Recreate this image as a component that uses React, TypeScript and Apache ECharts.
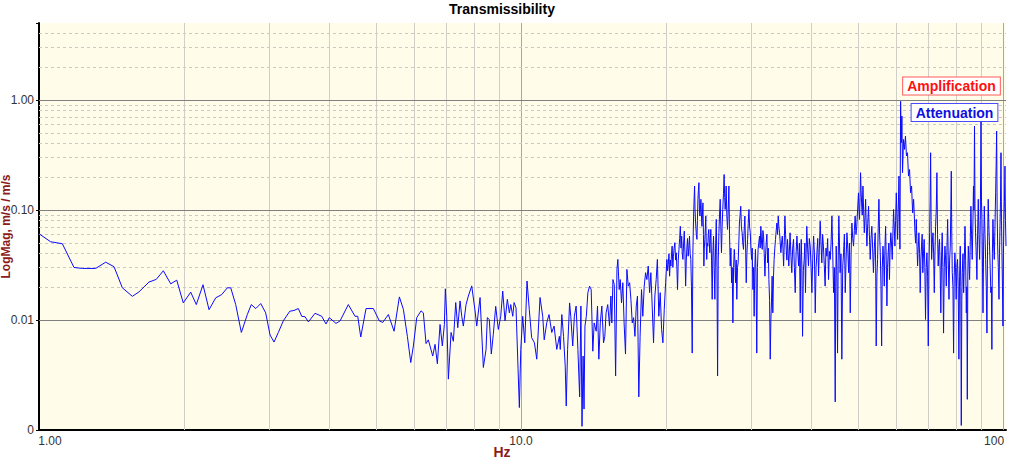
import React, { useEffect, useRef } from "react";
import * as echarts from "echarts";

const FONT = "'Liberation Sans', Arial, Helvetica, sans-serif";

// Gridline / tick values (Hz and magnitude)
const xMinorGrid = [2, 3, 4, 5, 6, 7, 8, 9, 20, 30, 40, 50, 60, 70, 80, 90];
const xMajorGrid = [10, 100];
const yMinorGrid = [
  0.002, 0.003, 0.005, 0.006, 0.007, 0.008, 0.009,
  0.02, 0.03, 0.04, 0.05, 0.06, 0.07, 0.08, 0.09,
  0.2, 0.3, 0.4, 0.5, 0.6, 0.7, 0.8, 0.9,
  2, 3, 4,
];
const yMajorGrid = [0.01, 0.1, 1];

// Transmissibility [Hz, m/s / m/s]
const lowBand: [number, number][] = [
  [1.0, 0.0608], [1.057, 0.0514], [1.118, 0.0493], [1.182, 0.030], [1.23, 0.0294], [1.311, 0.0294],
  [1.375, 0.0335], [1.431, 0.0305], [1.489, 0.0196], [1.562, 0.0164], [1.612, 0.018], [1.691, 0.0221],
  [1.751, 0.0234], [1.811, 0.028], [1.876, 0.0213], [1.931, 0.023], [1.992, 0.0143], [2.064, 0.0179],
  [2.12, 0.0138], [2.189, 0.0209], [2.253, 0.0124], [2.326, 0.0159], [2.393, 0.017], [2.459, 0.0196],
  [2.499, 0.0196], [2.559, 0.0138], [2.629, 0.0077], [2.705, 0.0112], [2.757, 0.0138], [2.816, 0.0127],
  [2.884, 0.0141], [2.953, 0.0116], [3.015, 0.0073], [3.073, 0.0063], [3.137, 0.0077], [3.212, 0.0098],
  [3.312, 0.012], [3.381, 0.0122], [3.451, 0.0127],
];

const midBand: [number, number][] = [
  [3.508, 0.0108], [3.564, 0.0107], [3.621, 0.0096], [3.738, 0.0115], [3.859, 0.0108], [3.939, 0.0092],
  [4.002, 0.0105], [4.132, 0.0093], [4.212, 0.0098], [4.382, 0.0138], [4.525, 0.0108], [4.584, 0.0108],
  [4.65, 0.007], [4.769, 0.0127], [4.939, 0.0127], [5.082, 0.0098], [5.166, 0.0095], [5.306, 0.0112],
  [5.452, 0.0079], [5.592, 0.0162], [5.70, 0.0125], [5.81, 0.0071], [5.905, 0.0041], [5.979, 0.0058],
  [6.076, 0.0105], [6.202, 0.0121], [6.271, 0.0116], [6.352, 0.0061], [6.422, 0.0066], [6.558, 0.0047],
  [6.631, 0.006], [6.705, 0.004], [6.792, 0.0091], [6.866, 0.0058], [6.933, 0.0091], [6.966, 0.0192],
  [7.013, 0.0108], [7.067, 0.0029], [7.158, 0.0077], [7.238, 0.0064], [7.32, 0.0144], [7.391, 0.0085],
  [7.472, 0.0149], [7.534, 0.0108], [7.591, 0.0088], [7.69, 0.0138], [7.775, 0.0165], [7.901, 0.0204],
  [8.028, 0.0121], [8.093, 0.0088], [8.222, 0.016], [8.352, 0.0037], [8.46, 0.0054], [8.513, 0.0105],
  [8.593, 0.0101], [8.676, 0.0049], [8.759, 0.0074], [8.86, 0.0133], [8.971, 0.0082], [9.075, 0.0108],
  [9.162, 0.0183], [9.264, 0.0098], [9.367, 0.0154], [9.457, 0.0116], [9.52, 0.0138], [9.612, 0.0108],
  [9.672, 0.0144], [9.763, 0.0129], [9.858, 0.0036], [9.92, 0.0016], [9.986, 0.0054], [10.08, 0.0108],
  [10.18, 0.0062], [10.29, 0.0226], [10.40, 0.0125], [10.52, 0.0069], [10.66, 0.0062], [10.78, 0.0044],
  [10.95, 0.016], [11.09, 0.0108], [11.17, 0.0066], [11.31, 0.0095], [11.43, 0.0112], [11.58, 0.0077],
  [11.71, 0.0088], [11.86, 0.0054], [12.01, 0.0071],
];

const risingBand: [number, number][] = [
  [12.06, 0.0054], [12.15, 0.0112], [12.25, 0.0071], [12.35, 0.0038], [12.41, 0.00165], [12.49, 0.0054],
  [12.61, 0.0143], [12.68, 0.0108], [12.80, 0.0058], [12.90, 0.0108], [13.01, 0.0134], [13.12, 0.0054],
  [13.23, 0.002], [13.31, 0.0134], [13.38, 0.00108], [13.45, 0.0047], [13.51, 0.00155], [13.57, 0.0088],
  [13.66, 0.0108], [13.76, 0.0177], [13.87, 0.0203], [13.98, 0.0189], [14.09, 0.0052], [14.18, 0.0094],
  [14.32, 0.0079], [14.41, 0.0134], [14.50, 0.0044], [14.60, 0.0094], [14.71, 0.0134], [14.83, 0.0062],
  [14.92, 0.0071], [15.01, 0.0116], [15.13, 0.0138], [15.26, 0.0088], [15.36, 0.0165], [15.43, 0.0094],
  [15.51, 0.0233], [15.61, 0.021], [15.71, 0.0031], [15.81, 0.0288], [15.88, 0.0355], [15.98, 0.0189],
  [16.06, 0.0233], [16.16, 0.0143], [16.26, 0.0218], [16.36, 0.0094], [16.47, 0.0049], [16.58, 0.0288],
  [16.69, 0.0203], [16.80, 0.0218], [16.90, 0.0154], [17.01, 0.0094], [17.12, 0.0105], [17.23, 0.0071],
  [17.34, 0.0134], [17.44, 0.0165], [17.55, 0.002], [17.66, 0.0071], [17.78, 0.0189], [17.89, 0.0108],
  [18.01, 0.0203], [18.13, 0.0269], [18.24, 0.0233], [18.36, 0.0309], [18.48, 0.0177], [18.59, 0.0269],
  [18.71, 0.0134], [18.83, 0.0062], [18.95, 0.0165], [19.07, 0.0233], [19.18, 0.0355], [19.31, 0.0108],
  [19.44, 0.0177], [19.57, 0.0082], [19.69, 0.0062], [19.82, 0.0125], [19.95, 0.0218],
  [20.07, 0.0355], [20.14, 0.028], [20.20, 0.032], [20.27, 0.04], [20.33, 0.025], [20.40, 0.035],
  [20.46, 0.0309], [20.52, 0.04], [20.58, 0.0469], [20.65, 0.03], [20.71, 0.038], [20.78, 0.045],
  [20.85, 0.0504], [20.92, 0.035], [20.99, 0.0408], [21.05, 0.03], [21.12, 0.0189], [21.19, 0.035],
  [21.26, 0.0438], [21.33, 0.055], [21.40, 0.071], [21.47, 0.045], [21.54, 0.0578], [21.60, 0.04],
  [21.67, 0.0355], [21.74, 0.05], [21.81, 0.0642], [21.88, 0.04], [21.95, 0.0203], [22.02, 0.035],
  [22.09, 0.0469], [22.15, 0.055], [22.22, 0.038], [22.29, 0.045], [22.36, 0.0578], [22.43, 0.04],
  [22.50, 0.0355], [22.57, 0.02], [22.65, 0.005], [22.72, 0.04], [22.80, 0.088], [22.85, 0.12],
  [22.91, 0.165], [22.96, 0.1], [23.02, 0.076], [23.10, 0.06], [23.17, 0.054], [23.22, 0.08],
  [23.28, 0.125], [23.33, 0.15], [23.39, 0.177], [23.45, 0.1], [23.50, 0.088], [23.55, 0.1],
  [23.61, 0.125], [23.67, 0.09], [23.73, 0.071], [23.78, 0.09], [23.84, 0.116], [23.90, 0.06],
  [23.95, 0.0309], [24.00, 0.045], [24.06, 0.054], [24.12, 0.07], [24.17, 0.088], [24.22, 0.05],
  [24.28, 0.0355], [24.34, 0.05], [24.40, 0.0469], [24.46, 0.06], [24.52, 0.0665], [24.58, 0.05],
  [24.64, 0.0408], [24.70, 0.055], [24.76, 0.0665], [24.84, 0.035], [24.92, 0.0154], [25.00, 0.04],
  [25.08, 0.0578], [25.16, 0.03], [25.24, 0.0154], [25.32, 0.045], [25.41, 0.082], [25.49, 0.03],
  [25.57, 0.0031], [25.65, 0.035], [25.73, 0.062], [25.81, 0.09], [25.89, 0.125], [25.97, 0.07],
  [26.05, 0.0408], [26.13, 0.07], [26.21, 0.101], [26.30, 0.14], [26.38, 0.21], [26.45, 0.13],
  [26.51, 0.101], [26.58, 0.12], [26.64, 0.165], [26.72, 0.09], [26.81, 0.0665], [26.90, 0.1],
  [26.99, 0.165], [27.07, 0.06], [27.16, 0.0309], [27.25, 0.045], [27.34, 0.0218], [27.42, 0.03],
  [27.51, 0.0094], [27.60, 0.03], [27.69, 0.0438], [27.77, 0.035], [27.86, 0.0218], [27.95, 0.035],
  [28.03, 0.0154], [28.12, 0.03], [28.21, 0.0331], [28.30, 0.05], [28.38, 0.076], [28.47, 0.09],
  [28.56, 0.108], [28.65, 0.07], [28.75, 0.062], [28.84, 0.05], [28.94, 0.0438], [29.03, 0.065],
  [29.13, 0.088], [29.22, 0.05], [29.32, 0.0218], [29.41, 0.04], [29.51, 0.054], [29.60, 0.075],
  [29.70, 0.101], [29.80, 0.07], [29.89, 0.062], [29.98, 0.045], [30.08, 0.0355], [30.17, 0.045],
  [30.27, 0.0189], [30.36, 0.03], [30.45, 0.0108], [30.55, 0.03], [30.64, 0.0438], [30.73, 0.025],
  [30.83, 0.005], [30.93, 0.03], [31.03, 0.0438], [31.13, 0.05], [31.24, 0.0578], [31.34, 0.045],
  [31.44, 0.071], [31.55, 0.05], [31.65, 0.0438], [31.75, 0.065], [31.85, 0.0578], [31.95, 0.04],
  [32.06, 0.025], [32.16, 0.04], [32.26, 0.0504], [32.36, 0.06], [32.47, 0.0331], [32.57, 0.045],
  [32.67, 0.0233], [32.78, 0.015], [32.88, 0.0044], [32.98, 0.01], [33.08, 0.0143], [33.18, 0.025],
  [33.29, 0.0116], [33.40, 0.025], [33.50, 0.0355], [33.61, 0.045], [33.72, 0.054], [33.83, 0.065],
  [33.94, 0.076], [34.05, 0.06], [34.16, 0.088], [34.27, 0.07], [34.38, 0.062], [34.49, 0.05],
  [34.60, 0.0408], [34.71, 0.05], [34.83, 0.0578], [34.94, 0.045], [35.05, 0.0309], [35.16, 0.05],
  [35.27, 0.088], [35.38, 0.06], [35.49, 0.0438], [35.60, 0.035], [35.71, 0.054], [35.82, 0.04],
  [35.93, 0.0309],
];

const highBand: [number, number][] = [
  [36.15, 0.062], [36.30, 0.038], [36.45, 0.0269], [36.60, 0.045], [36.75, 0.054], [36.90, 0.03],
  [37.05, 0.0177], [37.20, 0.04], [37.35, 0.058], [37.50, 0.042], [37.65, 0.0309], [37.80, 0.05],
  [37.95, 0.0116], [38.04, 0.035], [38.13, 0.054], [38.25, 0.03], [38.37, 0.0071], [38.52, 0.028],
  [38.67, 0.0355], [38.79, 0.05], [38.91, 0.0177], [39.03, 0.04], [39.15, 0.071], [39.31, 0.045],
  [39.47, 0.0309], [39.63, 0.055], [39.80, 0.0469], [39.96, 0.03], [40.12, 0.0177], [40.28, 0.036],
  [40.45, 0.058], [40.61, 0.04], [40.77, 0.0116], [40.93, 0.03], [41.09, 0.0408], [41.25, 0.055],
  [41.42, 0.0251], [41.58, 0.045], [41.74, 0.079], [41.90, 0.05], [42.07, 0.033], [42.23, 0.06],
  [42.39, 0.0469], [42.56, 0.032], [42.74, 0.0203], [42.91, 0.045], [43.09, 0.038], [43.26, 0.055],
  [43.44, 0.0233], [43.62, 0.042], [43.80, 0.0355], [43.97, 0.05], [44.15, 0.088], [44.32, 0.04],
  [44.50, 0.0177], [44.67, 0.03], [44.85, 0.0018], [44.95, 0.02], [45.06, 0.0469], [45.20, 0.028],
  [45.35, 0.005], [45.49, 0.035], [45.63, 0.088], [45.77, 0.05], [45.91, 0.0269], [46.10, 0.04],
  [46.29, 0.0044], [46.48, 0.03], [46.67, 0.0408], [46.86, 0.06], [47.05, 0.0177], [47.24, 0.035],
  [47.43, 0.062], [47.62, 0.045], [47.81, 0.0269], [48.00, 0.05], [48.19, 0.0116], [48.38, 0.04],
  [48.57, 0.076], [48.76, 0.055], [48.95, 0.0469], [49.14, 0.065], [49.33, 0.088], [49.52, 0.06],
  [49.71, 0.071], [49.91, 0.1], [50.12, 0.143], [50.25, 0.1], [50.37, 0.082], [50.50, 0.13],
  [50.62, 0.218], [50.75, 0.15], [50.87, 0.116], [51.03, 0.09], [51.20, 0.165], [51.36, 0.1],
  [51.53, 0.062], [51.70, 0.085], [51.86, 0.125], [52.02, 0.07], [52.18, 0.0469], [52.38, 0.075],
  [52.59, 0.108], [52.80, 0.06], [53.01, 0.0355], [53.21, 0.055], [53.42, 0.071], [53.62, 0.045],
  [53.83, 0.0269], [54.05, 0.045], [54.28, 0.062], [54.41, 0.03], [54.55, 0.0058], [54.73, 0.025],
  [54.91, 0.0355], [55.08, 0.07], [55.26, 0.125], [55.44, 0.06], [55.62, 0.0408], [55.80, 0.02],
  [55.98, 0.0058], [56.16, 0.03], [56.34, 0.0469], [56.51, 0.035], [56.69, 0.0203], [56.87, 0.045],
  [57.05, 0.071], [57.23, 0.035], [57.41, 0.0134], [57.58, 0.03], [57.76, 0.0408], [57.94, 0.05],
  [58.12, 0.0233], [58.30, 0.045], [58.49, 0.062], [58.68, 0.05], [58.88, 0.0355], [59.07, 0.06],
  [59.27, 0.101], [59.46, 0.07], [59.65, 0.0469], [59.84, 0.08], [60.04, 0.143], [60.23, 0.09],
  [60.42, 0.054], [60.61, 0.1], [60.81, 0.203], [60.95, 0.1], [61.10, 0.044], [61.29, 0.97],
  [61.48, 0.408], [61.67, 0.713], [61.86, 0.218], [62.15, 0.437], [62.44, 0.355], [62.73, 0.469],
  [63.03, 0.31], [63.34, 0.331], [63.65, 0.203], [63.97, 0.233], [64.28, 0.143], [64.59, 0.165],
  [64.91, 0.094], [65.22, 0.125], [65.43, 0.09], [65.64, 0.062], [65.85, 0.05], [66.06, 0.082],
  [66.26, 0.05], [66.47, 0.0309], [66.68, 0.045], [66.89, 0.062], [67.10, 0.04], [67.31, 0.0177],
  [67.52, 0.035], [67.73, 0.0469], [67.94, 0.06], [68.15, 0.0269], [68.37, 0.04], [68.59, 0.054],
  [68.81, 0.03], [69.04, 0.0101], [69.27, 0.03], [69.50, 0.0408], [69.72, 0.025], [69.95, 0.0058],
  [70.17, 0.03], [70.40, 0.062], [70.57, 0.12], [70.74, 0.331], [70.91, 0.08], [71.08, 0.0355],
  [71.31, 0.05], [71.54, 0.062], [71.76, 0.04], [71.99, 0.0177], [72.21, 0.04], [72.44, 0.071],
  [72.67, 0.1], [72.90, 0.218], [73.12, 0.06], [73.35, 0.0309], [73.57, 0.045], [73.80, 0.054],
  [74.03, 0.03], [74.27, 0.0116], [74.51, 0.035], [74.76, 0.062], [75.00, 0.03], [75.25, 0.0076],
  [75.50, 0.03], [75.75, 0.0469], [76.00, 0.035], [76.24, 0.0203], [76.48, 0.045], [76.73, 0.082],
  [76.97, 0.035], [77.22, 0.0154], [77.46, 0.035], [77.71, 0.0469], [77.90, 0.1], [78.08, 0.225],
  [78.26, 0.06], [78.45, 0.0269], [78.70, 0.02], [78.94, 0.005], [79.18, 0.025], [79.43, 0.0408],
  [79.67, 0.03], [79.92, 0.0154], [80.18, 0.03], [80.44, 0.0355], [80.70, 0.02], [80.97, 0.0044],
  [81.23, 0.025], [81.50, 0.0469], [81.70, 0.02], [81.90, 0.0011], [82.10, 0.015], [82.29, 0.0269],
  [82.56, 0.04], [82.83, 0.0177], [83.10, 0.035], [83.36, 0.071], [83.62, 0.035], [83.89, 0.0116],
  [84.09, 0.02], [84.29, 0.0019], [84.49, 0.025], [84.69, 0.0469], [84.95, 0.035], [85.22, 0.0233],
  [85.48, 0.05], [85.75, 0.108], [86.01, 0.06], [86.28, 0.0355], [86.55, 0.07], [86.81, 0.165],
  [87.02, 0.1], [87.24, 0.578], [87.45, 0.1], [87.67, 0.062], [87.96, 0.04], [88.25, 0.0233],
  [88.53, 0.06], [88.82, 0.125], [89.11, 0.06], [89.40, 0.0355], [89.69, 0.08], [89.98, 0.643],
  [90.20, 0.12], [90.41, 0.082], [90.63, 0.03], [90.85, 0.0116], [91.13, 0.05], [91.42, 0.108],
  [91.71, 0.06], [92.00, 0.0355], [92.29, 0.02], [92.58, 0.0076], [92.86, 0.05], [93.15, 0.125],
  [93.44, 0.07], [93.73, 0.0469], [94.02, 0.03], [94.32, 0.0177], [94.55, 0.02], [94.79, 0.0054],
  [95.02, 0.04], [95.26, 0.082], [95.57, 0.05], [95.88, 0.0355], [96.19, 0.07], [96.50, 0.143],
  [96.73, 0.25], [96.97, 0.521], [97.20, 0.1], [97.44, 0.0469], [97.75, 0.03], [98.06, 0.0154],
  [98.30, 0.04], [98.53, 0.071], [98.77, 0.12], [99.00, 0.331], [99.23, 0.08], [99.46, 0.0408],
  [99.70, 0.02], [99.93, 0.0088], [100.16, 0.04], [100.4, 0.082], [100.65, 0.12], [100.9, 0.25],
  [101.15, 0.08], [101.4, 0.0469],
];

const near = (a: number, b: number) => Math.abs(a - b) < b * 1e-6;

export default function App() {
  const ref = useRef<HTMLDivElement>(null);

  useEffect(() => {
    if (!ref.current) return;
    const chart = echarts.init(ref.current, null, { renderer: "svg" });

    const gridLines = [
      ...xMinorGrid.map((v) => ({ xAxis: v, lineStyle: { color: "#cfcfc8", width: 1, type: "solid" } })),
      ...xMajorGrid.map((v) => ({ xAxis: v, lineStyle: { color: "#a8a8a0", width: 1, type: "solid" } })),
      ...yMinorGrid.map((v) => ({ yAxis: v, lineStyle: { color: "#cacac2", width: 1, type: [3, 3] } })),
      ...yMajorGrid.map((v) => ({ yAxis: v, lineStyle: { color: "#808080", width: 1, type: "solid" } })),
    ];

    const data = [...lowBand, ...midBand, ...risingBand, ...highBand];

    chart.setOption({
      animation: false,
      grid: {
        left: 39,
        right: 6,
        top: 23,
        bottom: 35,
        containLabel: false,
        outerBoundsMode: "none",
        show: true,
        backgroundColor: "#fffdea",
        borderWidth: 0,
      },
      xAxis: {
        type: "log",
        logBase: 10,
        min: 1,
        max: 101.4,
        axisLine: { lineStyle: { color: "#000", width: 2 } },
        axisTick: { show: false },
        splitLine: { show: false },
        axisLabel: {
          margin: 5,
          color: "#333",
          fontSize: 12,
          fontFamily: FONT,
          showMaxLabel: false,
          formatter: (v: number) => {
            if (near(v, 1)) return "{l|1.00}";
            if (near(v, 10)) return "10.0";
            if (near(v, 100)) return "{r|100}";
            return "";
          },
          rich: {
            l: { padding: [0, 0, 0, 22], fontSize: 12, color: "#333", fontFamily: FONT },
            r: { padding: [0, 18, 0, 0], fontSize: 12, color: "#333", fontFamily: FONT },
          },
        },
      },
      yAxis: {
        type: "log",
        logBase: 10,
        min: 0.001,
        max: 5,
        name: "LogMag, m/s / m/s",
        nameLocation: "middle",
        nameGap: 27,
        nameMoveOverlap: false,
        nameTextStyle: { color: "#8b1a1a", fontWeight: "bold", fontSize: 12, fontFamily: FONT },
        axisLine: { lineStyle: { color: "#000", width: 2 } },
        axisTick: { show: true, length: 3, lineStyle: { color: "#000" } },
        splitLine: { show: false },
        axisLabel: {
          margin: 5,
          color: "#333",
          fontSize: 12,
          fontFamily: FONT,
          formatter: (v: number) => {
            if (near(v, 0.001)) return "0";
            if (near(v, 0.01)) return "0.01";
            if (near(v, 0.1)) return "0.10";
            if (near(v, 1)) return "1.00";
            return "";
          },
        },
      },
      graphic: [
        {
          type: "text",
          x: 502,
          y: 9,
          style: {
            text: "Transmissibility",
            font: `bold 14px ${FONT}`,
            fill: "#000",
            align: "center",
            verticalAlign: "middle",
          },
        },
        {
          type: "text",
          x: 502,
          y: 452,
          style: {
            text: "Hz",
            font: `bold 14px ${FONT}`,
            fill: "#8b1a1a",
            align: "center",
            verticalAlign: "middle",
          },
        },
        {
          type: "text",
          x: 951.5,
          y: 86,
          z: 100,
          style: {
            text: "Amplification",
            font: `bold 14px ${FONT}`,
            fill: "#ff1010",
            align: "center",
            verticalAlign: "middle",
            backgroundColor: "#ffffff",
            borderColor: "#ff5a5a",
            borderWidth: 1,
            padding: [2, 4, 1, 4],
          },
        },
        {
          type: "text",
          x: 954.5,
          y: 112.5,
          z: 100,
          style: {
            text: "Attenuation",
            font: `bold 14px ${FONT}`,
            fill: "#1010e0",
            align: "center",
            verticalAlign: "middle",
            backgroundColor: "#ffffff",
            borderColor: "#4a4aff",
            borderWidth: 1,
            padding: [2, 4, 1, 4],
          },
        },
      ],
      series: [
        {
          type: "line",
          data,
          z: 3,
          showSymbol: false,
          symbol: "none",
          lineStyle: { color: "#0a0aff", width: 1 },
          markLine: {
            silent: true,
            z: 1,
            symbol: ["none", "none"],
            label: { show: false },
            emphasis: { disabled: true },
            data: gridLines,
          },
        },
      ],
    });

    return () => chart.dispose();
  }, []);

  return (
    <div
      ref={ref}
      style={{ position: "absolute", left: 0, top: 0, width: 1012, height: 465 }}
    />
  );
}
